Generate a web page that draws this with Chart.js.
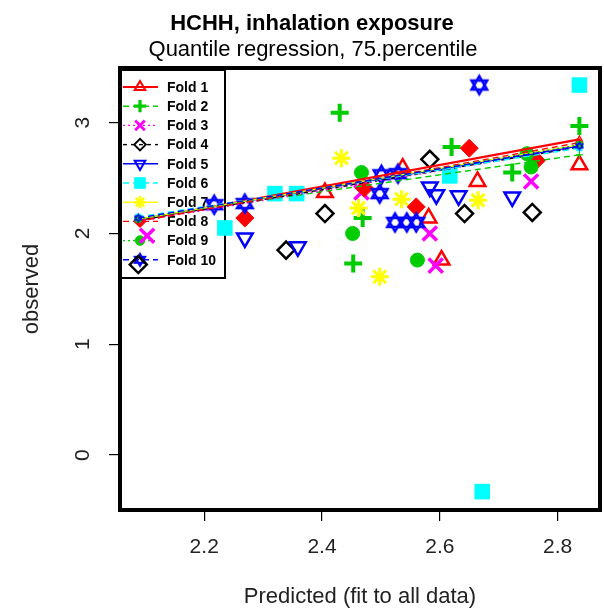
<!DOCTYPE html>
<html><head><meta charset="utf-8">
<script src="https://cdn.jsdelivr.net/npm/chart.js@4.4.1/dist/chart.umd.min.js"></script>
<style>html,body{margin:0;padding:0;background:#fff}#wrap{width:604px;height:608px}</style>
</head><body><div id="wrap"><canvas id="c" width="604" height="608"></canvas></div>
<script>
// ---- data ----
const foldNames = ["Fold 1","Fold 2","Fold 3","Fold 4","Fold 5","Fold 6","Fold 7","Fold 8","Fold 9","Fold 10"];
const fold1X = [2.405, 2.537, 2.581, 2.603, 2.664, 2.837];
const fold1Y = [2.37, 2.59, 2.14, 1.76, 2.47, 2.62];
const fold2X = [2.430, 2.469, 2.453, 2.620, 2.723, 2.837];
const fold2Y = [3.09, 2.14, 1.73, 2.78, 2.55, 2.97];
const fold3X = [2.103, 2.467, 2.583, 2.593, 2.755];
const fold3Y = [1.98, 2.37, 2.00, 1.71, 2.47];
const fold4X = [2.088, 2.339, 2.405, 2.583, 2.642, 2.757];
const fold4Y = [1.72, 1.85, 2.18, 2.67, 2.18, 2.19];
const fold5X = [2.269, 2.359, 2.583, 2.594, 2.632, 2.723];
const fold5Y = [1.96, 1.88, 2.42, 2.35, 2.34, 2.33];
const fold6X = [2.235, 2.320, 2.357, 2.617, 2.672, 2.837];
const fold6Y = [2.05, 2.36, 2.36, 2.52, -0.33, 3.34];
const fold7X = [2.433, 2.462, 2.498, 2.535, 2.665];
const fold7Y = [2.68, 2.23, 1.61, 2.31, 2.30];
const fold8X = [2.269, 2.472, 2.560, 2.650, 2.764];
const fold8Y = [2.14, 2.41, 2.24, 2.77, 2.66];
const fold9X = [2.452, 2.467, 2.562, 2.748, 2.755];
const fold9Y = [2.00, 2.55, 1.76, 2.72, 2.60];
const fold10X = [2.217, 2.269, 2.498, 2.501, 2.529, 2.524, 2.544, 2.560, 2.667];
const fold10Y = [2.26, 2.27, 2.36, 2.53, 2.54, 2.10, 2.10, 2.10, 3.34];
// fitted quantile-regression lines per fold (start / end)
const lineX = [2.088, 2.837];
const lineStartY = [2.12, 2.14, 2.11, 2.12, 2.13, 2.15, 2.13, 2.11, 2.13, 2.14];
const lineEndY   = [2.85, 2.71, 2.78, 2.78, 2.79, 2.77, 2.80, 2.82, 2.80, 2.79];
const xTickValues = [2.2, 2.4, 2.6, 2.8];
const yTickValues = [0, 1, 2, 3];

const titleText = "HCHH, inhalation exposure";
const subtitleText = "Quantile regression, 75.percentile";
const xTitle = "Predicted (fit to all data)";
const yTitle = "observed";

// ---- styles ----
const FONT = "'Liberation Sans', Arial, Helvetica, sans-serif";
const colors = ["#FF0000","#00CC00","#FF00FF","#000000","#0000FF","#00FFFF","#FFFF00","#FF0000","#00CC00","#0000FF"];
const dashes = [[],[6,4],[2,3],[4,4],[],[6,4],[],[6,4],[2,3],[6,4]];
const lineW = [2.2,1.4,1.4,1.4,1.4,1.4,1.4,1.4,1.4,1.4];

function starOfDavid(color, r, lw){
  const s = Math.ceil(2*r + 2*lw + 2);
  const c = document.createElement('canvas');
  c.width = s; c.height = s;
  const g = c.getContext('2d');
  const cx = s/2, cy = s/2;
  g.strokeStyle = color; g.lineWidth = lw; g.lineJoin = 'miter';
  [[-90,30,150],[90,210,330]].forEach(a=>{
    g.beginPath();
    a.forEach((d,i)=>{const t=d*Math.PI/180; const px=cx+r*Math.cos(t), py=cy+r*Math.sin(t); if(i===0)g.moveTo(px,py); else g.lineTo(px,py);});
    g.closePath(); g.stroke();
  });
  return c;
}
const T = 'rgba(0,0,0,0)';
const markers = [
  {style:'triangle', rot:0,   r:9,  bw:2.5, fill:false},
  {style:'cross',    rot:0,   r:9,  bw:4,   fill:false},
  {style:'crossRot', rot:0,   r:10, bw:3.5, fill:false},
  {style:'rectRot',  rot:0,   r:8.5,bw:2.5, fill:false},
  {style:'triangle', rot:180, r:9,  bw:2.5, fill:false},
  {style:'rect',     rot:0,   r:11, bw:0,   fill:true},
  {style:'star',     rot:0,   r:9,  bw:3,   fill:false},
  {style:'rectRot',  rot:0,   r:9,  bw:1,   fill:true},
  {style:'circle',   rot:0,   r:7,  bw:1,   fill:true},
  {style:null,       rot:0,   r:9,  bw:2.5, fill:false}
];
const bigStar = starOfDavid(colors[9], 9, 2.5);
const smallStar = starOfDavid(colors[9], 4, 1.2);
const legendStar = starOfDavid(colors[9], 6, 2);

const foldX = [fold1X,fold2X,fold3X,fold4X,fold5X,fold6X,fold7X,fold8X,fold9X,fold10X];
const foldY = [fold1Y,fold2Y,fold3Y,fold4Y,fold5Y,fold6Y,fold7Y,fold8Y,fold9Y,fold10Y];

const datasets = [];
for (let i=0;i<10;i++){
  const m = markers[i];
  datasets.push({
    label: foldNames[i]+' fit',
    data: lineX.map((x,k)=>({x, y: k===0 ? lineStartY[i] : lineEndY[i]})),
    showLine: true,
    borderColor: colors[i],
    borderWidth: lineW[i],
    borderDash: dashes[i],
    pointStyle: i===9 ? smallStar : m.style,
    pointRotation: m.rot,
    pointRadius: 3.5,
    pointBorderWidth: 1.2,
    pointBorderColor: colors[i],
    pointBackgroundColor: m.fill ? colors[i] : T,
    order: 10 - i
  });
  datasets.push({
    label: foldNames[i],
    data: foldX[i].map((x,k)=>({x, y: foldY[i][k]})),
    showLine: false,
    pointStyle: i===9 ? bigStar : m.style,
    pointRotation: m.rot,
    pointRadius: m.r,
    pointBorderWidth: m.bw,
    pointBorderColor: colors[i],
    pointBackgroundColor: m.fill ? colors[i] : T,
    order: 50 - i
  });
}

const decor = {
  id: 'decor',
  beforeDatasetsDraw(chart){
    const ctx = chart.ctx;
    ctx.save();
    ctx.strokeStyle = '#000'; ctx.lineWidth = 2;
    ctx.strokeRect(120, 70, 105, 208);
    for (let i=0;i<10;i++){
      const y = 87 + i*19.2;
      ctx.save();
      ctx.strokeStyle = colors[i]; ctx.lineWidth = lineW[i];
      ctx.setLineDash(dashes[i]);
      ctx.beginPath(); ctx.moveTo(123, y); ctx.lineTo(158, y); ctx.stroke();
      ctx.restore();
      const m = markers[i];
      ctx.save();
      ctx.strokeStyle = colors[i];
      ctx.fillStyle = m.fill ? colors[i] : T;
      ctx.lineWidth = Math.max(1, m.bw*0.8);
      Chart.helpers.drawPoint(ctx, {pointStyle: i===9 ? legendStar : m.style, rotation: m.rot, radius: m.r*0.68, borderWidth: Math.max(1, m.bw*0.8)}, 140, y);
      ctx.restore();
      ctx.fillStyle = '#000';
      ctx.font = 'bold 14px ' + FONT;
      ctx.textAlign = 'left'; ctx.textBaseline = 'middle';
      ctx.fillText(foldNames[i], 167, y + 1);
    }
    ctx.restore();
  },
  afterDraw(chart){
    const ctx = chart.ctx, a = chart.chartArea;
    ctx.save();
    ctx.strokeStyle = '#000'; ctx.lineWidth = 4;
    ctx.strokeRect(a.left, a.top, a.right - a.left, a.bottom - a.top);
    ctx.fillStyle = '#000';
    ctx.textAlign = 'center'; ctx.textBaseline = 'middle';
    ctx.font = 'bold 22px ' + FONT;
    ctx.fillText(titleText, 312, 24);
    ctx.font = '22px ' + FONT;
    ctx.fillText(subtitleText, 313, 50);
    ctx.fillStyle = '#222';
    ctx.fillText(xTitle, (a.left + a.right)/2, 597);
    ctx.save();
    ctx.translate(32, (a.top + a.bottom)/2);
    ctx.rotate(-Math.PI/2);
    ctx.fillText(yTitle, 0, 0);
    ctx.restore();
    ctx.font = '21px ' + FONT;
    const xs = chart.scales.x, ys = chart.scales.y;
    xTickValues.forEach(v=>{
      ctx.fillText(v.toFixed(1), xs.getPixelForValue(v), 547);
    });
    yTickValues.forEach(v=>{
      ctx.save();
      ctx.translate(83, ys.getPixelForValue(v));
      ctx.rotate(-Math.PI/2);
      ctx.fillText(String(v), 0, 0);
      ctx.restore();
    });
    ctx.restore();
  }
};

new Chart(document.getElementById('c'), {
  type: 'scatter',
  data: { datasets },
  options: {
    responsive: false,
    devicePixelRatio: 1,
    animation: false,
    events: [],
    layout: { autoPadding: false, padding: { top: 68, right: 4, left: 0, bottom: 0 } },
    plugins: { legend: { display: false }, tooltip: { enabled: false }, title: { display: false } },
    scales: {
      x: {
        type: 'linear', min: 2.057, max: 2.872,
        afterBuildTicks(s){ s.ticks = xTickValues.map(v=>({value:v})); },
        afterFit(s){ s.height = 98; s.paddingLeft = 0; s.paddingRight = 0; },
        border: { display: false },
        grid: { drawOnChartArea: false, drawTicks: true, tickLength: 11, color: '#000', lineWidth: 1.2 },
        ticks: { display: false }
      },
      y: {
        type: 'linear', min: -0.496, max: 3.494,
        afterBuildTicks(s){ s.ticks = yTickValues.map(v=>({value:v})); },
        afterFit(s){ s.width = 120; s.paddingTop = 0; s.paddingBottom = 0; },
        border: { display: false },
        grid: { drawOnChartArea: false, drawTicks: true, tickLength: 11, color: '#000', lineWidth: 1.2 },
        ticks: { display: false }
      }
    }
  },
  plugins: [decor]
});
</script>
</body></html>
